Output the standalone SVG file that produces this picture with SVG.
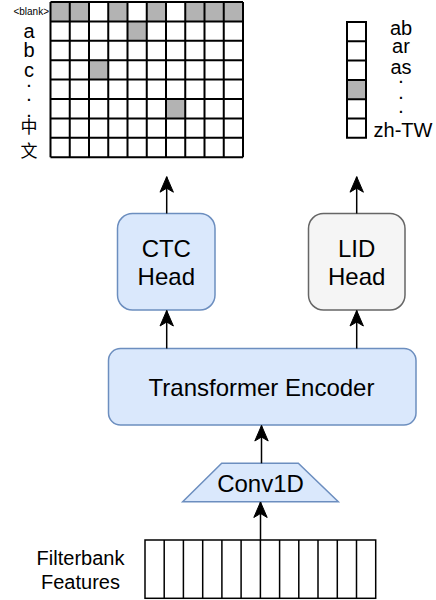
<svg xmlns="http://www.w3.org/2000/svg" width="436" height="600" viewBox="0 0 436 600">
<defs>
<style>
text{font-family:"Liberation Sans",Arial,"Noto Sans CJK SC",sans-serif;fill:#000}
.lbl{font-size:24px;text-anchor:middle}
.sm{font-size:20px;text-anchor:middle}
.dot{font-size:14px;font-weight:bold;text-anchor:middle}
.cjk{font-family:"Noto Sans CJK SC",sans-serif;font-size:17px;text-anchor:middle}
.grid{fill:none;stroke:#000;stroke-width:2}
.gray{fill:#b3b3b3}
.conn{fill:none;stroke:#000;stroke-width:1.5}
</style>
<marker id="arr" viewBox="0 0 17 15" refX="16" refY="7.5" markerWidth="17" markerHeight="15" markerUnits="userSpaceOnUse" orient="auto">
<path d="M16,7.5 L0.5,0.8 L4.5,7.5 L0.5,14.2 Z" fill="#000" stroke="#000" stroke-width="1"/>
</marker>
</defs>
<rect width="436" height="600" fill="#fff"/>

<g id="ctc-output">
<rect x="50.5" y="2" width="192.5" height="155.2" fill="#fff"/>
<rect class="gray" x="50.5" y="2" width="19.25" height="19.4"/>
<rect class="gray" x="69.75" y="2" width="19.25" height="19.4"/>
<rect class="gray" x="108.25" y="2" width="19.25" height="19.4"/>
<rect class="gray" x="146.75" y="2" width="19.25" height="19.4"/>
<rect class="gray" x="185.25" y="2" width="19.25" height="19.4"/>
<rect class="gray" x="204.5" y="2" width="19.25" height="19.4"/>
<rect class="gray" x="223.75" y="2" width="19.25" height="19.4"/>
<rect class="gray" x="127.5" y="21.4" width="19.25" height="19.4"/>
<rect class="gray" x="89" y="60.2" width="19.25" height="19.4"/>
<rect class="gray" x="166" y="99" width="19.25" height="19.4"/>
<path class="grid" d="M50.5,2V157.2M69.75,2V157.2M89,2V157.2M108.25,2V157.2M127.5,2V157.2M146.75,2V157.2M166,2V157.2M185.25,2V157.2M204.5,2V157.2M223.75,2V157.2M243,2V157.2M50.5,2H243M50.5,21.4H243M50.5,40.8H243M50.5,60.2H243M50.5,79.6H243M50.5,99H243M50.5,118.4H243M50.5,137.8H243M50.5,157.2H243"/>
<text x="49" y="15" font-size="10" text-anchor="end">&lt;blank&gt;</text>
<text class="sm" x="29" y="37.7" font-size="19">a</text>
<text class="sm" x="29" y="56.7" font-size="19">b</text>
<text class="sm" x="29" y="76.7" font-size="19">c</text>
<text class="dot" x="29" y="86.5">.</text>
<text class="dot" x="29" y="100.5">.</text>
<text class="dot" x="29" y="116.5">.</text>
<text class="cjk" x="29" y="132.5">中</text>
<text class="cjk" x="29" y="156.5">文</text>
</g>

<g id="lid-output">
<rect x="347" y="22" width="19" height="115.8" fill="#fff"/>
<rect class="gray" x="347" y="79.9" width="19" height="19.3"/>
<path class="grid" d="M347,22H366V137.8H347ZM347,41.3H366M347,60.6H366M347,79.9H366M347,99.2H366M347,118.5H366"/>
<text class="sm" x="401" y="35">ab</text>
<text class="sm" x="401" y="53">ar</text>
<text class="sm" x="401" y="73.5">as</text>
<text class="dot" x="401" y="83.2">.</text>
<text class="dot" x="401" y="98.8">.</text>
<text class="dot" x="401" y="113.2">.</text>
<text class="sm" x="403" y="137.3">zh-TW</text>
</g>

<g id="ctc-head">
<rect x="117.5" y="213.5" width="97.5" height="96.5" rx="15" fill="#dae8fc" stroke="#6c8ebf" stroke-width="1.5"/>
<text class="lbl" x="166.3" y="256.7">CTC</text>
<text class="lbl" x="166.3" y="285">Head</text>
</g>

<g id="lid-head">
<rect x="308.5" y="213.5" width="96.5" height="96.5" rx="15" fill="#f5f5f5" stroke="#666666" stroke-width="1.5"/>
<text class="lbl" x="356.7" y="256.7">LID</text>
<text class="lbl" x="356.7" y="285">Head</text>
</g>

<g id="transformer-encoder">
<rect x="108.5" y="348.5" width="307.5" height="76.5" rx="12" fill="#dae8fc" stroke="#6c8ebf" stroke-width="1.5"/>
<text class="lbl" x="261.5" y="395.5">Transformer Encoder</text>
</g>

<g id="conv1d">
<path d="M221.7,463.3H298.3L338.3,501.7H182.7Z" fill="#dae8fc" stroke="#6c8ebf" stroke-width="1.5"/>
<text class="lbl" x="260.5" y="491.7" font-size="22">Conv1D</text>
</g>

<g id="filterbank">
<rect x="145" y="540" width="230.7" height="58.3" fill="#fff" stroke="#000" stroke-width="1.5"/>
<path d="M164.2,540V598.3M183.4,540V598.3M202.7,540V598.3M221.9,540V598.3M241.1,540V598.3M260.4,540V598.3M279.6,540V598.3M298.8,540V598.3M318,540V598.3M337.3,540V598.3M356.5,540V598.3" stroke="#000" stroke-width="1.5" fill="none"/>
<text class="sm" x="80.5" y="565">Filterbank</text>
<text class="sm" x="80.5" y="589">Features</text>
</g>

<g id="connectors">
<path class="conn" d="M166.7,213.5V176.7" marker-end="url(#arr)"/>
<path class="conn" d="M356.7,213.5V176.7" marker-end="url(#arr)"/>
<path class="conn" d="M166.7,348.5V310.5" marker-end="url(#arr)"/>
<path class="conn" d="M356.7,348.5V310.5" marker-end="url(#arr)"/>
<path class="conn" d="M261.5,463.3V425.5" marker-end="url(#arr)"/>
<path class="conn" d="M260.5,540V502" marker-end="url(#arr)"/>
</g>
</svg>
